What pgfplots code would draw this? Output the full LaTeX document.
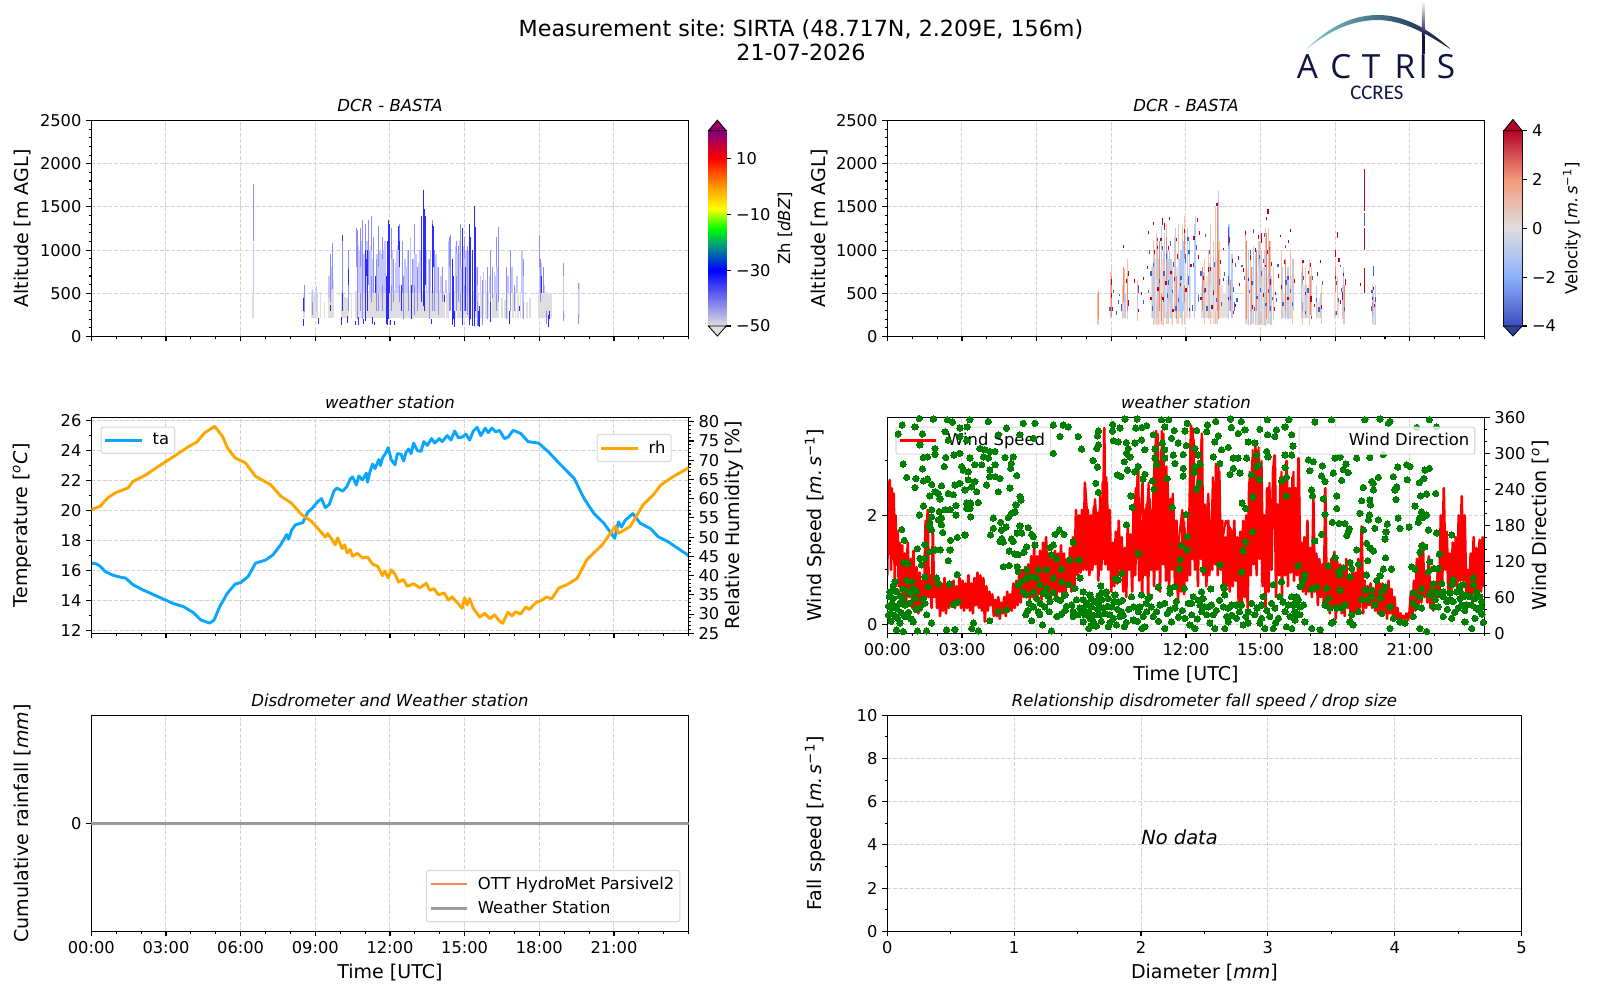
\documentclass[border=0pt]{standalone}
\usepackage{fontspec}
\setmainfont{DejaVu Sans}
\newfontfamily\logofont{Open Sans}
\newfontfamily\logosub{Carlito}
\usepackage{pgfplots}
\pgfplotsset{compat=1.18}
\newcommand{\tickf}{\fontsize{11.7bp}{13bp}\selectfont}
\newcommand{\titlef}{\fontsize{11.9bp}{14bp}\selectfont}
\newcommand{\labelf}{\fontsize{13.7bp}{16bp}\selectfont}
\newcommand{\cbf}{\fontsize{11.8bp}{14bp}\selectfont}
\newcommand{\legf}{\fontsize{11.8bp}{14bp}\selectfont}
\definecolor{gridc}{HTML}{D2D2D2}
\definecolor{taC}{HTML}{0AA5FF}
\definecolor{rhC}{HTML}{FFA500}
\definecolor{navy}{HTML}{0F1540}
\definecolor{gBase}{HTML}{DEDEDE}
\definecolor{zLight}{HTML}{C6C6FF}
\definecolor{zMid}{HTML}{8C8CFF}
\definecolor{zStrong}{HTML}{2A2AFF}
\definecolor{vPale}{HTML}{E6E0DC}
\definecolor{vBlueL}{HTML}{B5CCF8}
\definecolor{vPeach}{HTML}{F7BFA6}
\definecolor{vSalmon}{HTML}{EE8868}
\definecolor{vBlue}{HTML}{3F5FD8}
\definecolor{vRed}{HTML}{B40426}
\definecolor{logoA}{HTML}{7CCBC8}
\definecolor{logoB}{HTML}{1F7F95}
\definecolor{ottC}{HTML}{EF8A62}
\definecolor{wsC}{HTML}{999999}
\pgfdeclareverticalshading{zhmap}{100bp}{rgb(0bp)=(.87,.87,.87); rgb(25bp)=(.87,.87,.87); rgb(39.3bp)=(0,0,1); rgb(45bp)=(0,.55,.55); rgb(50bp)=(0,1,0); rgb(55bp)=(1,1,0); rgb(60.7bp)=(1,.6,0); rgb(67.9bp)=(1,0,0); rgb(75bp)=(.5,0,.5); rgb(100bp)=(.5,0,.5)}
\pgfdeclareverticalshading{velmap}{100bp}{rgb(0bp)=(.23,.30,.75); rgb(25bp)=(.23,.30,.75); rgb(37.5bp)=(.55,.69,.99); rgb(50bp)=(.87,.87,.87); rgb(62.5bp)=(.96,.6,.48); rgb(75bp)=(.71,.016,.15); rgb(100bp)=(.71,.016,.15)}
\pgfplotsset{
  base/.style={scale only axis,anchor=south west,
    tick align=outside,major tick length=3.6bp,minor tick length=2bp,
    tick style={black,line width=.8bp},axis line style={line width=.8bp},
    grid=major,grid style={gridc,line width=.7bp,dash pattern=on 2.9bp off 1.2bp},
    tick label style={font=\tickf},title style={font=\titlef,at={(0.5,1)},anchor=base,yshift=0.5bp},
    /pgf/number format/assume math mode=true,/pgf/number format/1000 sep={},
    scaled ticks=false,
    every axis y label/.style={at={(axis description cs:0,0.5)},anchor=center,rotate=90,font=\labelf},
    every axis x label/.style={at={(axis description cs:0.5,0)},anchor=center,yshift=-30bp,font=\labelf},
    legend cell align=left,
    legend style={font=\legf,fill=white,fill opacity=.8,text opacity=1,draw=black!15,rounded corners=1.5bp,line width=.8bp,inner xsep=2bp,inner ysep=2.5bp,row sep=3bp},
    legend image code/.code={\draw[draw opacity=0] (0bp,0bp) -- (31bp,0bp); \draw[##1] (0bp,0bp) -- (26bp,0bp);},
  },
  timex/.style={xmin=0,xmax=24,xtick={0,3,...,21},minor xtick={0,1,...,24},xtick pos=left},
  hourlab/.style={xticklabels={00:00,03:00,06:00,09:00,12:00,15:00,18:00,21:00}},
  nolab/.style={xticklabels={}},
  wd/.style={width=430.06bp,height=155.52bp},
  ylab/.style={ylabel style={yshift=#1}},
  radarY/.style={ymin=0,ymax=2500,ytick={0,500,...,2500},minor ytick={0,100,...,2500},ytick pos=left},
  streak/.style 2 args={forget plot,draw=none,mark=none,error bars/.cd,y dir=plus,y explicit,error mark=none,error bar style={draw=#1,line width=#2,solid}},
  cbar/.style={scale only axis,anchor=south west,clip=false,xmin=0,xmax=1,xtick=\empty,ytick pos=right,yticklabel pos=right,
    tick align=outside,major tick length=3.6bp,tick style={black,line width=.8bp},axis line style={line width=.6bp},tick label style={font=\tickf},
    every axis y label/.style={at={(axis description cs:1,0.5)},anchor=center,rotate=90,font=\cbf}},
}
\begin{document}
\frenchspacing
\begin{tikzpicture}
\begin{scope}[x=0.72bp,y=-0.72bp]
\coordinate (p1) at (91.3,336.5);
\coordinate (p2) at (887.3,336.5);
\coordinate (p3) at (91.3,633.3);
\coordinate (p4) at (887.3,633.3);
\coordinate (p5) at (91.3,931.3);
\coordinate (p6) at (887.3,931.3);
\coordinate (cb1) at (708.4,326);
\coordinate (cb2) at (1503.8,326);
\node[font=\fontsize{16bp}{19bp}\selectfont] at (801,30) {Measurement site: SIRTA (48.717N, 2.209E, 156m)};
\node[font=\fontsize{16bp}{19bp}\selectfont] at (801,52) {21-07-2026};
% logo
\begin{scope}
\clip (1306,49.5) .. controls (1330,26) and (1352,15.5) .. (1377,15) .. controls (1405,14.5) and (1430,30) .. (1451,49.5) .. controls (1430,36) and (1405,20) .. (1377,20) .. controls (1352,20.5) and (1330,30) .. cycle;
\shade[left color=logoA,middle color=logoB,right color=navy] (1306,14) rectangle (1451,50);
\end{scope}
\shade[top color=white,bottom color=navy] (1422,1) rectangle (1424.6,36);
\fill[navy] (1422,36) rectangle (1424.6,54);
\foreach \lx/\lt in {1307.5/A,1341/C,1371/T,1405/R,1423.3/I,1446/S}{
  \node[font=\logofont\fontsize{24bp}{26bp}\selectfont,text=navy,anchor=base] at (\lx,78) {\lt};
}
\node[font=\logosub\fontsize{15bp}{17bp}\selectfont,text=navy,anchor=base] at (1376.8,99) {CCRES};
\end{scope}

% ---------- DCR reflectivity
\begin{axis}[base,wd,at={(p1)},timex,nolab,radarY,ylab=49.7bp,title={\textit{DCR - BASTA}},ylabel={Altitude [m AGL]}]
\addplot[streak={gBase}{2.4bp}] table[row sep=\\,x=t,y=lo,y error expr=\thisrow{hi}-\thisrow{lo}] {t lo hi\\
8.9 210 530\\ 9.03 210 520\\ 9.58 210 560\\ 9.7 210 640\\ 10.08 210 520\\ 10.3 210 450\\ 10.68 210 530\\ 10.8 210 540\\ 10.92 210 520\\ 11.04 210 530\\ 11.16 210 530\\ 11.28 210 540\\ 11.4 210 530\\ 11.52 210 520\\ 11.64 210 540\\ 11.76 210 530\\ 11.88 210 530\\ 12 210 520\\ 12.12 210 530\\ 12.24 210 540\\ 12.36 210 530\\ 12.48 210 530\\ 12.6 210 520\\ 12.72 210 530\\ 12.84 210 540\\ 12.96 210 530\\ 13.08 210 530\\ 13.2 210 520\\ 13.32 210 530\\ 13.44 210 530\\ 13.56 210 540\\ 13.68 210 530\\ 13.8 210 530\\ 13.92 210 520\\ 14.04 210 530\\ 14.16 210 530\\ 14.3 210 500\\ 14.6 210 530\\ 14.75 210 530\\ 14.9 210 520\\ 15.05 210 530\\ 15.2 210 500\\ 15.35 210 530\\ 15.5 210 500\\ 15.7 210 500\\ 15.9 210 520\\ 16.15 210 500\\ 16.3 210 520\\ 18.03 210 520\\ 18.16 210 520\\ 18.28 210 520\\ 18.4 210 500\\
}; 
\addplot[streak={gBase}{1bp}] table[row sep=\\,x=t,y=lo,y error expr=\thisrow{hi}-\thisrow{lo}] {t lo hi\\
8.55 210 500\\ 9.2 210 520\\ 9.38 210 400\\ 10.2 210 460\\ 10.45 210 500\\ 16.5 210 450\\ 16.62 210 420\\ 16.72 210 500\\ 16.85 210 520\\ 16.95 210 500\\ 17.05 210 520\\ 17.15 210 480\\ 17.25 210 520\\ 17.35 210 530\\ 17.5 210 400\\ 17.62 210 450\\ 18.5 210 500\\ 19 210 260\\ 19.6 210 620\\ 6.5 210 500\\
};
\addplot[streak={zLight}{1bp}] table[row sep=\\,x=t,y=lo,y error expr=\thisrow{hi}-\thisrow{lo}] {t lo hi\\
8.88 300 550\\ 9.05 300 580\\ 9.55 450 700\\ 9.65 500 800\\ 10.72 500 1050\\ 10.78 500 1000\\ 10.85 450 1100\\ 10.95 500 950\\ 11.07 500 1100\\ 11.18 500 1000\\ 11.22 450 1050\\ 11.32 500 900\\ 11.48 500 950\\ 11.6 500 1000\\ 11.65 450 950\\ 11.75 500 1000\\ 11.8 500 1100\\ 12.1 500 1000\\ 12.22 500 850\\ 12.28 500 1000\\ 12.32 500 1050\\ 12.6 500 900\\ 12.65 500 800\\ 12.7 500 1000\\ 12.82 500 1150\\ 12.95 500 900\\ 13.05 500 950\\ 13.15 500 850\\ 13.2 500 1000\\ 13.48 500 1000\\ 13.55 500 900\\ 13.62 500 1000\\ 13.85 500 950\\ 13.9 500 800\\ 14.05 500 700\\ 14.25 500 650\\ 14.35 500 1100\\ 14.65 500 1050\\ 14.72 500 950\\ 14.8 500 1100\\ 14.95 500 1050\\ 15.05 500 1000\\ 15.15 500 1000\\ 15.45 500 800\\ 15.65 500 700\\ 15.75 500 750\\ 15.85 500 650\\ 16 500 700\\ 16.2 500 750\\ 16.25 500 700\\ 16.75 500 700\\ 16.9 500 800\\ 17.1 500 700\\ 17.3 500 1000\\ 18.02 500 1000\\ 18.1 500 850\\ 18.2 500 600\\ 6.52 500 1080\\
};
\addplot[streak={zMid}{.7bp}] table[row sep=\\,x=t,y=lo,y error expr=\thisrow{hi}-\thisrow{lo}] {t lo hi\\
6.52 1100 1760\\ 8.55 280 600\\ 8.9 250 400\\ 9.6 400 950\\ 9.7 550 1080\\ 10.1 400 1180\\ 10.33 300 1000\\ 10.65 800 1250\\ 10.7 200 1230\\ 10.8 300 1250\\ 10.9 200 1350\\ 11 200 1300\\ 11.12 600 1350\\ 11.25 400 1400\\ 11.35 500 1150\\ 11.45 300 900\\ 11.55 300 1280\\ 11.7 300 1150\\ 12.05 300 1250\\ 12.15 400 900\\ 12.38 400 1300\\ 12.5 500 1100\\ 12.55 200 700\\ 12.75 300 1000\\ 12.9 500 900\\ 13 250 1300\\ 13.1 300 800\\ 13.25 500 1300\\ 13.6 200 900\\ 13.7 300 1350\\ 13.8 300 1000\\ 13.95 250 800\\ 14.1 400 800\\ 14.4 300 1150\\ 14.45 300 1180\\ 14.68 300 1100\\ 14.75 400 1050\\ 14.85 300 1300\\ 15 300 1150\\ 15.1 250 1050\\ 15.5 120 800\\ 15.7 130 650\\ 15.9 200 800\\ 16.05 400 1000\\ 16.1 450 800\\ 16.3 300 1150\\ 16.35 400 1270\\ 16.7 200 800\\ 16.85 300 1000\\ 17 300 600\\ 17.35 200 900\\ 18 800 1180\\ 18.05 400 900\\ 18.15 500 800\\ 18.3 150 300\\ 18.98 180 850\\ 19.58 150 620\\
};
\addplot[streak={zLight}{.9bp}] table[row sep=\\,x=t,y=lo,y error expr=\thisrow{hi}-\thisrow{lo}] {t lo hi\\
10.8 500 800\\ 11 600 900\\ 11.25 700 1000\\ 11.55 500 800\\ 11.7 600 900\\ 12.05 600 900\\ 12.38 600 850\\ 13 600 950\\ 13.7 600 900\\ 14.4 500 800\\ 14.68 700 950\\ 14.85 500 800\\ 15 600 900\\ 15.5 400 600\\ 16.3 500 800\\ 17.35 400 700\\ 18.98 300 700\\ 19.58 250 550\\
};
\addplot[streak={zStrong}{.7bp}] table[row sep=\\,x=t,y=lo,y error expr=\thisrow{hi}-\thisrow{lo}] {t lo hi\\
8.53 125 200\\ 8.52 300 440\\ 9.12 150 210\\ 9.62 300 360\\ 10.07 130 220\\ 10.08 1100 1180\\ 10.09 300 500\\ 10.3 160 240\\ 10.32 600 780\\ 10.62 130 180\\ 10.75 130 230\\ 10.95 140 200\\ 11.02 180 1000\\ 11.1 300 1000\\ 11.05 700 900\\ 11.3 140 220\\ 11.42 500 700\\ 11.38 130 170\\ 11.85 150 700\\ 11.9 130 1100\\ 11.95 200 1350\\ 12 500 1300\\ 12.02 130 190\\ 12.2 130 180\\ 12.4 800 1100\\ 12.35 1000 1280\\ 12.45 300 600\\ 12.85 200 600\\ 13.28 400 1400\\ 13.33 350 1690\\ 13.38 300 1480\\ 13.42 600 1400\\ 13.72 500 1300\\ 13.75 800 1280\\ 13.65 140 200\\ 14.2 400 480\\ 14.52 130 900\\ 14.56 200 700\\ 14.6 110 300\\ 14.9 200 1250\\ 14.92 130 700\\ 15.05 300 800\\ 15.2 130 1300\\ 15.25 200 1150\\ 15.3 125 1000\\ 15.38 120 1510\\ 15.42 300 1270\\ 15.55 120 300\\ 15.6 110 350\\ 16.05 170 400\\ 16.8 140 300\\ 17.22 300 350\\ 18.08 500 700\\ 18.35 110 250\\ 18.4 200 300\\
};
\end{axis}
\begin{axis}[cbar,at={(cb1)},width=12.9bp,height=140.6bp,ymin=-50,ymax=20,ytick={-50,-30,-10,10},yticklabels={−50,−30,−10,10},ylabel={Zh [\textit{dBZ}]},ylabel style={yshift=-42.2bp}]
\shade[shading=zhmap] (axis cs:0,-50) rectangle (axis cs:1,20);
\filldraw[fill=gBase,draw=black,line width=.6bp] (axis cs:0,-50) -- (axis cs:.5,-53.6) -- (axis cs:1,-50) -- cycle;
\filldraw[fill=violet!60!purple,draw=black,line width=.6bp] (axis cs:0,20) -- (axis cs:.5,23.8) -- (axis cs:1,20) -- cycle;
\end{axis}

% ---------- DCR velocity
\begin{axis}[base,wd,at={(p2)},timex,nolab,radarY,ylab=48.6bp,title={\textit{DCR - BASTA}},ylabel={Altitude [m AGL]}]
\addplot[streak={vPale}{1.6bp}] table[row sep=\\,x=t,y=lo,y error expr=\thisrow{hi}-\thisrow{lo}] {t lo hi\\
9 210 600\\ 9.5 210 500\\ 10.65 210 800\\ 10.75 150 900\\ 10.85 130 800\\ 10.95 150 750\\ 11.05 130 900\\ 11.15 210 700\\ 11.25 140 800\\ 11.35 210 800\\ 11.45 140 700\\ 11.55 210 750\\ 11.65 150 800\\ 11.75 210 800\\ 11.85 130 700\\ 11.95 140 900\\ 12.05 210 650\\ 12.15 210 700\\ 12.65 210 600\\ 12.75 210 650\\ 12.85 210 700\\ 12.95 210 600\\ 13.05 210 800\\ 13.15 140 800\\ 13.25 140 900\\ 13.35 210 800\\ 13.45 210 600\\ 13.55 210 500\\ 13.65 210 650\\ 14.4 150 700\\ 14.5 130 800\\ 14.6 130 700\\ 14.7 150 800\\ 14.8 130 700\\ 14.9 130 750\\ 15 130 800\\ 15.1 130 800\\ 15.2 130 700\\ 15.3 150 700\\ 15.4 150 600\\ 15.85 210 600\\ 15.95 210 500\\ 16.05 210 700\\ 16.15 210 600\\ 16.25 210 700\\ 16.75 210 600\\ 16.85 210 500\\ 16.95 210 600\\ 17.3 210 400\\ 17.4 210 450\\ 18 210 500\\ 18.1 210 450\\ 18.3 210 400\\ 19.55 130 450\\
};
\addplot[streak={vPeach}{.75bp}] table[row sep=\\,x=t,y=lo,y error expr=\thisrow{hi}-\thisrow{lo}] {t lo hi\\
8.45 150 520\\ 8.5 130 530\\ 8.98 220 750\\ 9 500 800\\ 9.45 200 600\\ 9.55 250 780\\ 9.65 200 900\\ 10.05 180 650\\ 10.7 130 1100\\ 10.8 150 1200\\ 10.9 130 900\\ 11 140 1200\\ 11.1 130 1000\\ 11.2 150 1300\\ 11.3 140 900\\ 11.45 130 800\\ 11.55 300 1150\\ 11.7 140 1300\\ 11.85 150 1280\\ 11.95 140 1400\\ 12.75 150 900\\ 12.9 200 1000\\ 13 150 1300\\ 13.2 150 1500\\ 13.25 150 1560\\ 13.3 200 1400\\ 13.35 300 1100\\ 13.7 200 800\\ 14.4 150 1230\\ 14.45 200 1000\\ 14.6 130 900\\ 14.7 150 1000\\ 14.9 130 1100\\ 15 140 1200\\ 15.2 120 1250\\ 15.3 150 1260\\ 15.4 130 1100\\ 15.5 200 800\\ 15.85 200 1000\\ 16.2 200 1000\\ 16.3 150 900\\ 16.7 130 880\\ 16.8 200 800\\ 16.95 130 900\\ 17.05 210 800\\ 17.45 150 600\\ 18 220 900\\ 18.1 300 700\\ 18.3 200 600\\ 18.35 150 500\\ 19.5 150 600\\ 19.6 210 450\\
};
\addplot[streak={vBlueL}{.85bp}] table[row sep=\\,x=t,y=lo,y error expr=\thisrow{hi}-\thisrow{lo}] {t lo hi\\
9 400 600\\ 9.55 210 500\\ 10.05 300 500\\ 10.65 210 800\\ 10.75 210 1000\\ 10.85 210 1150\\ 11.03 210 1280\\ 11.13 210 1200\\ 11.25 210 1000\\ 11.33 400 1000\\ 11.4 210 900\\ 11.58 300 1250\\ 11.72 300 900\\ 11.8 210 1000\\ 11.88 300 1100\\ 12.05 300 1250\\ 12.15 210 1100\\ 12.35 210 1300\\ 12.4 300 1400\\ 12.7 210 750\\ 12.95 210 850\\ 13.1 300 1100\\ 13.3 1100 1680\\ 13.27 500 1560\\ 13.72 210 1300\\ 13.76 300 1300\\ 13.85 210 950\\ 14.5 130 1000\\ 14.62 140 800\\ 14.72 210 1050\\ 14.8 130 950\\ 14.95 130 1100\\ 15.05 150 1000\\ 15.15 130 1000\\ 15.32 210 800\\ 15.42 130 700\\ 15.87 210 800\\ 16 200 700\\ 16.1 200 800\\ 16.32 300 900\\ 16.65 210 750\\ 16.82 210 600\\ 17.25 210 600\\ 17.42 210 500\\ 18.02 300 700\\ 18.32 220 800\\ 19.52 210 500\\ 19.62 130 600\\
};
\addplot[streak={vSalmon}{.7bp}] table[row sep=\\,x=t,y=lo,y error expr=\thisrow{hi}-\thisrow{lo}] {t lo hi\\
8.47 200 500\\ 9.02 220 700\\ 9.5 400 800\\ 9.65 300 680\\ 10.92 300 1100\\ 11 180 800\\ 11.2 400 1150\\ 11.6 200 700\\ 11.95 400 1200\\ 12.65 300 800\\ 13.25 300 1500\\ 13.3 200 1000\\ 13.8 300 650\\ 14.45 200 1100\\ 14.65 300 800\\ 14.85 300 1000\\ 15.25 200 1200\\ 15.35 300 1100\\ 16 300 900\\ 16.7 300 800\\ 17 250 700\\ 18.02 250 800\\ 18.35 280 600\\ 19.5 250 400\\
};
\addplot[streak={vPale}{.9bp}] table[row sep=\\,x=t,y=lo,y error expr=\thisrow{hi}-\thisrow{lo}] {t lo hi\\
10.8 400 650\\ 11 500 800\\ 11.2 300 600\\ 11.7 500 900\\ 11.85 400 700\\ 11.95 600 900\\ 13 300 600\\ 13.2 300 500\\ 14.4 600 900\\ 14.7 300 600\\ 14.9 500 800\\ 15 300 600\\ 15.2 500 800\\ 15.3 300 600\\ 16.7 400 600\\ 18 300 500\\
};
\addplot[streak={vBlue}{.9bp}] table[row sep=\\,x=t,y=lo,y error expr=\thisrow{hi}-\thisrow{lo}] {t lo hi\\
8.95 300 340\\ 9.3 380 420\\ 9.32 470 490\\ 9.4 300 380\\ 10.1 500 600\\ 10.5 500 540\\ 10.6 700 760\\ 10.7 800 850\\ 10.95 620 660\\ 11.1 400 450\\ 11.22 900 950\\ 11.3 600 650\\ 11.45 500 540\\ 11.6 300 350\\ 11.98 850 950\\ 12.1 600 700\\ 12.12 950 1000\\ 12.5 400 480\\ 12.6 700 760\\ 12.85 300 350\\ 12.95 950 1000\\ 13.1 500 540\\ 13.22 400 450\\ 13.7 1050 1270\\ 13.72 600 700\\ 13.95 300 400\\ 13.98 800 850\\ 14.25 800 830\\ 14.6 950 1000\\ 14.65 600 640\\ 14.85 430 470\\ 14.95 900 940\\ 15.05 700 760\\ 15.15 1150 1200\\ 15.32 500 550\\ 15.4 300 350\\ 15.65 400 450\\ 15.9 350 400\\ 16.1 650 700\\ 16.2 500 550\\ 16.8 260 300\\ 17.05 200 240\\ 17.25 400 450\\ 18 950 980\\ 18.05 250 300\\ 18.12 400 450\\ 18.2 800 830\\ 19.16 500 530\\ 19.17 1280 1430\\ 19.17 1650 1700\\ 19.45 300 350\\ 19.55 700 820\\ 19.62 400 460\\
9.1 500 540\\ 9.2 250 300\\ 10.3 380 420\\ 10.55 950 1000\\ 10.65 300 350\\ 10.85 1100 1140\\ 11.05 1000 1050\\ 11.12 700 760\\ 11.27 450 500\\ 11.37 1050 1100\\ 11.5 800 860\\ 11.7 400 450\\ 11.8 650 700\\ 12.08 1100 1150\\ 12.25 300 360\\ 12.3 800 850\\ 12.42 1000 1060\\ 12.75 500 560\\ 12.8 1150 1190\\ 13.15 800 860\\ 13.35 600 660\\ 13.42 350 400\\ 13.55 700 750\\ 13.78 420 470\\ 13.9 520 570\\ 14.05 400 440\\ 14.35 650 700\\ 14.55 500 540\\ 14.7 1200 1240\\ 14.75 300 340\\ 15 520 560\\ 15.12 850 900\\ 15.22 350 390\\ 15.35 1000 1040\\ 15.48 420 460\\ 15.7 800 840\\ 16 1020 1060\\ 16.02 600 650\\ 16.28 350 400\\ 16.72 650 700\\ 16.9 500 560\\ 17.08 650 700\\ 17.35 280 340\\ 17.5 600 640\\ 18.05 600 640\\ 18.25 520 560\\ 18.38 300 340\\ 19.48 500 540\\
};
\addplot[streak={vRed}{.9bp}] table[row sep=\\,x=t,y=lo,y error expr=\thisrow{hi}-\thisrow{lo}] {t lo hi\\
9 600 670\\ 9.02 450 500\\ 9.5 1020 1060\\ 9.7 350 420\\ 9.68 700 760\\ 9.93 620 660\\ 10.1 280 320\\ 10.2 480 520\\ 10.45 780 820\\ 10.5 1190 1220\\ 10.7 1290 1320\\ 10.85 1010 1050\\ 11.05 1290 1370\\ 11.15 1230 1310\\ 11.2 600 640\\ 11.35 1350 1380\\ 11.4 720 760\\ 11.55 640 690\\ 11.65 900 950\\ 11.95 1200 1240\\ 12.15 290 330\\ 12.45 1320 1370\\ 12.55 1180 1220\\ 12.5 900 940\\ 12.7 650 700\\ 12.9 750 800\\ 13.05 320 360\\ 13.25 1510 1540\\ 13.5 1000 1030\\ 13.75 1080 1150\\ 13.9 260 300\\ 14.1 880 930\\ 14.15 580 620\\ 14.3 750 790\\ 14.6 880 940\\ 14.8 980 1020\\ 15.05 1080 1200\\ 15.2 800 830\\ 15.25 1350 1380\\ 15.3 1420 1470\\ 15.4 600 660\\ 15.55 300 340\\ 15.8 1150 1180\\ 15.85 550 600\\ 16.2 1210 1240\\ 16.1 420 460\\ 16.7 850 890\\ 17 800 850\\ 17.02 400 470\\ 17.3 700 750\\ 17.4 850 890\\ 18 920 1000\\ 18.1 1140 1210\\ 18.15 860 910\\ 18.3 420 520\\ 18.4 600 660\\ 19 580 620\\ 19.17 500 790\\ 19.17 1000 1250\\ 19.17 1450 1940\\ 19.55 540 570\\
9.05 300 340\\ 9.6 620 660\\ 10.3 650 690\\ 10.6 420 460\\ 10.75 950 1000\\ 10.88 530 570\\ 11 1100 1140\\ 11.08 420 460\\ 11.3 1000 1050\\ 11.48 280 320\\ 11.62 1100 1140\\ 11.78 580 620\\ 12 520 560\\ 12.2 800 840\\ 12.32 1120 1160\\ 12.6 420 460\\ 12.8 520 560\\ 13 760 800\\ 13.12 480 520\\ 13.4 840 880\\ 13.52 640 680\\ 13.7 420 460\\ 13.88 850 900\\ 14 340 380\\ 14.4 1180 1220\\ 14.5 640 680\\ 14.68 320 360\\ 14.9 1130 1170\\ 15.12 460 500\\ 15.28 950 1000\\ 15.45 820 860\\ 15.6 480 520\\ 15.72 680 720\\ 15.95 840 880\\ 16.12 1080 1120\\ 16.35 620 660\\ 16.8 480 520\\ 16.92 720 760\\ 17.18 340 380\\ 17.45 320 360\\ 18.02 660 700\\ 18.2 380 420\\ 18.33 700 740\\ 19.5 420 460\\ 19.58 340 380\\
};
\end{axis}
\begin{axis}[cbar,at={(cb2)},width=13.2bp,height=140.6bp,ymin=-4,ymax=4,ytick={-4,-2,0,2,4},yticklabels={−4,−2,0,2,4},ylabel={Velocity [\textit{m.\,s}\textsuperscript{−1}]},ylabel style={yshift=-35.8bp}]
\shade[shading=velmap] (axis cs:0,-4) rectangle (axis cs:1,4);
\filldraw[fill=vBlue!70!black,draw=black,line width=.6bp] (axis cs:0,-4) -- (axis cs:.5,-4.41) -- (axis cs:1,-4) -- cycle;
\filldraw[fill=vRed,draw=black,line width=.6bp] (axis cs:0,4) -- (axis cs:.5,4.46) -- (axis cs:1,4) -- cycle;
\end{axis}

% ---------- temperature / humidity
\begin{axis}[base,wd,at={(p3)},timex,nolab,ymin=11.82,ymax=26.22,ytick={12,14,...,26},minor ytick={12,13,...,26},ytick pos=left,ylab=49.8bp,
  title={\textit{weather station}},ylabel={Temperature [\textsuperscript{\textit{o}}\textit{C}]},legend style={at={(0.0156,0.957)},anchor=north west}]
\addplot[taC,line width=2.1bp,line join=round] coordinates {(0,16.5)(0.2,16.45)(0.35,16.3)(0.55,15.95)(0.85,15.7)(1.2,15.55)(1.38,15.5)(1.68,15.05)(2.09,14.7)(2.5,14.4)(2.9,14.1)(3.3,13.8)(3.7,13.6)(4.1,13.2)(4.41,12.7)(4.76,12.5)(4.93,12.7)(5.16,13.6)(5.47,14.5)(5.78,15.1)(6,15.2)(6.3,15.6)(6.6,16.5)(7,16.7)(7.3,17.05)(7.6,17.7)(7.85,18.4)(7.93,18.1)(8.05,18.7)(8.2,19.05)(8.5,19.2)(8.7,19.9)(8.85,20.1)(9.1,20.6)(9.25,20.8)(9.4,20.2)(9.56,20.4)(9.75,21.3)(9.87,21.5)(10.1,21.3)(10.27,21.6)(10.4,22.1)(10.5,22.25)(10.65,21.7)(10.75,22.3)(10.9,22.05)(11.05,22.5)(11.1,21.9)(11.2,22.6)(11.3,23.1)(11.4,22.8)(11.55,23.4)(11.62,23)(11.7,23.5)(11.85,23.9)(11.93,24.2)(12.05,23.4)(12.2,23.05)(12.3,23.8)(12.45,23.75)(12.55,23.3)(12.65,23.9)(12.75,24.1)(12.85,23.8)(12.95,24.5)(13.1,24)(13.25,23.95)(13.36,24.6)(13.5,24.35)(13.67,24.8)(13.8,24.5)(13.98,24.8)(14.1,24.6)(14.3,25)(14.45,24.7)(14.6,25.3)(14.75,24.85)(14.9,24.9)(15.05,25.1)(15.2,24.7)(15.35,25.3)(15.5,25.55)(15.65,25)(15.83,25.5)(15.95,25.2)(16.1,25.5)(16.25,25.25)(16.4,25.35)(16.6,24.8)(16.75,24.9)(16.95,25.35)(17.25,25.15)(17.55,24.6)(17.97,24.5)(18.38,23.9)(18.8,23.15)(19.4,22.15)(19.8,20.8)(20.2,19.8)(20.6,19.15)(21.03,18.15)(21.18,19.25)(21.3,18.9)(21.45,19.35)(21.76,19.8)(22.06,19.15)(22.47,18.8)(22.78,18.25)(23.2,17.9)(23.6,17.45)(24,17)};
\addlegendentry{ta}
\end{axis}
\begin{axis}[base,wd,at={(p3)},xmin=0,xmax=24,xtick=\empty,grid=none,ymin=25,ymax=81.15,ytick={25,30,...,80},minor ytick={25,26,...,81},ytick pos=right,yticklabel pos=right,
  every axis y label/.style={at={(axis description cs:1,0.5)},anchor=center,rotate=90,font=\labelf},ylabel style={yshift=-32.6bp},
  ylabel={Relative Humidity [\%]},legend style={at={(0.9716,0.9227)},anchor=north east}]
\addplot[rhC,line width=2.1bp,line join=round] coordinates {(0,57.15)(0.35,58)(0.66,60.2)(0.96,61.5)(1.48,62.8)(1.68,64.5)(2.2,66.2)(2.7,68.4)(3.32,71)(3.93,73.6)(4.24,74.7)(4.55,77.1)(4.96,78.8)(5.27,76.2)(5.47,73.2)(5.78,70.6)(6.19,69.3)(6.6,65.8)(7.21,63.6)(7.62,60.6)(8.03,58.9)(8.44,55.9)(8.85,54.1)(9.26,51.1)(9.4,50)(9.5,50.9)(9.67,49.4)(9.8,48)(9.9,49.8)(10.08,47)(10.18,48)(10.28,45.9)(10.4,46.8)(10.5,45)(10.69,45.8)(10.9,44.6)(11.1,44.8)(11.3,43)(11.51,42.4)(11.7,40)(11.8,41.2)(11.93,39.4)(12.05,41.5)(12.2,40.4)(12.35,38.3)(12.54,39)(12.7,37.2)(12.95,37.9)(13.2,36.8)(13.46,38)(13.6,36.2)(13.77,36.6)(13.95,35)(14.18,35.5)(14.35,33.6)(14.49,34.5)(14.7,33)(14.9,31.5)(15,34.2)(15.1,32.4)(15.2,34)(15.35,31.5)(15.61,29.2)(15.8,30.2)(16.02,28.8)(16.2,29.8)(16.4,28.2)(16.53,27.6)(16.74,30.5)(16.9,29.5)(17.05,30.6)(17.25,30)(17.46,31.8)(17.6,31.2)(17.87,33)(18.1,33.6)(18.28,34.4)(18.5,34)(18.79,36.8)(19.1,37.6)(19.51,39.2)(19.92,44.2)(20.53,48)(21.05,52.8)(21.19,51)(21.66,52.8)(22.17,58.4)(22.58,61)(22.89,63.6)(23.4,65.8)(24,68)};
\addlegendentry{rh}
\end{axis}

% ---------- wind
\begin{axis}[base,wd,at={(p4)},timex,hourlab,ymin=-0.165,ymax=3.8,ytick={0,2},minor ytick={1,3},ytick pos=left,ylab=51.8bp,
  title={\textit{weather station}},xlabel={Time [UTC]},ylabel={Wind Speed [\textit{m.\,s}\textsuperscript{−1}]},legend style={at={(0.0137,0.957)},anchor=north west}]
\addplot[red,line width=1.5bp,line join=round,forget plot] coordinates {(7.9,1.2)(7.96,2.5)(8.15,1.3)(8.35,2.3)(8.5,1.2)(8.55,2.4)(8.65,1.3)(8.71,3.6)(8.74,1.4)(8.8,2.7)(8.9,1.2)(9.85,1.2)(9.98,2.5)(10.03,1.2)(10.06,2.95)(10.1,1.3)(10.26,2.7)(10.32,1.2)(10.5,2.6)(10.6,1.3)(10.76,3.3)(10.82,1.4)(10.87,3.5)(10.93,1.5)(11,3.2)(11.06,1.3)(11.1,3.5)(11.16,1.4)(11.22,2.9)(11.28,1.1)(11.47,2.4)(11.6,1.1)(11.85,2.1)(12.1,1.2)(12.18,3.4)(12.22,1.4)(12.28,3.6)(12.33,1.3)(12.5,3.0)(12.56,1.3)(12.62,3.4)(12.68,1.2)(12.9,2.4)(13,1.2)(13.08,2.7)(13.14,1.3)(13.2,2.95)(13.26,1.4)(13.31,2.9)(13.37,1.3)(13.6,1.9)(14.5,1.2)(14.56,2.8)(14.62,1.4)(14.68,3.2)(14.74,1.5)(14.8,3.3)(14.86,1.4)(14.92,3.25)(14.98,1.5)(15.04,3.0)(15.1,1.1)(15.36,2.6)(15.42,1.2)(15.58,3.1)(15.64,1.1)(15.84,2.8)(15.9,1.2)(16.06,3.0)(16.12,1.1)(16.32,2.8)(16.38,1.1)(16.54,3.05)(16.6,1.0)};
\addplot[red,line width=1.9bp,line join=round] coordinates {(0,0.9)(0.03,2.6)(0.07,1.3)(0.1,2.65)(0.15,1.0)(0.18,2.5)(0.22,1.2)(0.26,2.4)(0.3,0.8)(0.33,2.0)(0.38,1.1)(0.42,1.7)(0.46,0.7)(0.5,1.5)(0.54,0.6)(0.6,1.45)(0.65,0.4)(0.7,1.3)(0.76,0.35)(0.82,1.5)(0.88,0.5)(0.94,1.2)(1,0.3)(1.05,1.35)(1.12,0.3)(1.18,1.05)(1.25,0.2)(1.3,0.95)(1.36,0.25)(1.42,0.8)(1.48,0.35)(1.54,1.9)(1.58,0.5)(1.62,2.1)(1.67,0.5)(1.72,0.9)(1.78,0.3)(1.83,1.75)(1.88,0.5)(1.94,0.85)(2,0.3)(2.06,0.8)(2.12,0.15)(2.18,0.75)(2.24,0.25)(2.3,0.85)(2.36,0.2)(2.42,0.7)(2.48,0.3)(2.54,0.75)(2.6,0.35)(2.66,0.8)(2.72,0.3)(2.78,0.7)(2.84,0.35)(2.9,0.85)(2.96,0.3)(3.02,0.8)(3.08,0.25)(3.14,0.75)(3.2,0.3)(3.26,0.9)(3.32,0.25)(3.38,0.75)(3.44,0.2)(3.5,0.85)(3.56,0.35)(3.62,0.95)(3.68,0.3)(3.74,0.9)(3.8,0.25)(3.86,0.85)(3.92,0.05)(3.98,0.7)(4.04,0.25)(4.1,0.6)(4.16,0.35)(4.22,0.55)(4.28,0.15)(4.34,0.45)(4.4,0.15)(4.46,0.5)(4.52,0.1)(4.58,0.4)(4.64,0.2)(4.7,0.5)(4.76,0.15)(4.82,0.6)(4.88,0.25)(4.94,0.55)(5,0.25)(5.06,0.75)(5.12,0.3)(5.18,0.8)(5.24,0.35)(5.3,0.95)(5.36,0.4)(5.42,1.0)(5.48,0.5)(5.54,1.05)(5.6,0.5)(5.66,1.1)(5.72,0.45)(5.78,1.25)(5.84,0.5)(5.9,1.4)(5.96,0.5)(6.02,1.25)(6.08,0.55)(6.14,1.35)(6.2,0.45)(6.26,1.5)(6.32,0.6)(6.38,1.6)(6.44,0.5)(6.5,1.3)(6.56,0.45)(6.62,1.2)(6.68,0.6)(6.74,1.35)(6.8,0.5)(6.86,1.3)(6.92,0.6)(6.98,1.45)(7.04,0.45)(7.1,1.3)(7.16,0.55)(7.22,1.2)(7.28,0.7)(7.34,1.4)(7.4,0.6)(7.46,1.6)(7.52,0.7)(7.58,2.1)(7.64,0.9)(7.7,2.0)(7.76,0.95)(7.82,2.1)(7.88,1.0)(7.94,2.6)(8,1.0)(8.06,2.1)(8.12,0.9)(8.18,2.0)(8.24,1.0)(8.3,2.15)(8.36,1.1)(8.42,2.05)(8.48,0.8)(8.54,2.1)(8.6,1.0)(8.66,2.6)(8.7,1.2)(8.72,3.6)(8.76,1.1)(8.82,2.6)(8.88,1.0)(8.94,2.1)(9,0.6)(9.06,1.5)(9.12,0.7)(9.18,1.7)(9.24,0.75)(9.3,1.9)(9.36,1.0)(9.42,1.6)(9.48,0.6)(9.54,1.4)(9.6,0.5)(9.66,1.8)(9.72,1.0)(9.78,1.65)(9.84,0.6)(9.9,2.2)(9.96,0.9)(10.02,2.1)(10.08,2.9)(10.12,0.8)(10.18,1.9)(10.24,0.55)(10.3,2.1)(10.36,0.9)(10.42,2.2)(10.48,0.5)(10.54,2.3)(10.6,1.0)(10.66,2.1)(10.72,0.7)(10.8,3.55)(10.84,1.0)(10.9,3.0)(10.96,0.6)(11.04,3.55)(11.08,1.1)(11.14,2.4)(11.2,0.8)(11.26,2.7)(11.32,0.6)(11.38,2.3)(11.44,1.0)(11.5,2.1)(11.56,0.7)(11.62,1.9)(11.68,0.4)(11.74,1.5)(11.8,0.6)(11.86,1.9)(11.92,0.55)(11.98,1.6)(12.04,0.8)(12.1,2.0)(12.16,0.9)(12.2,3.65)(12.26,1.2)(12.3,3.4)(12.36,1.0)(12.42,2.5)(12.48,0.7)(12.54,2.7)(12.6,1.2)(12.64,3.5)(12.7,0.9)(12.76,2.2)(12.82,0.7)(12.88,2.1)(12.94,0.9)(13,1.9)(13.06,1.0)(13.12,2.6)(13.18,1.1)(13.22,2.9)(13.28,0.9)(13.34,2.8)(13.4,1.0)(13.46,1.9)(13.52,0.5)(13.58,1.6)(13.64,0.7)(13.7,1.9)(13.76,0.6)(13.82,1.7)(13.88,0.7)(13.94,1.9)(14,0.8)(14.06,1.6)(14.12,0.35)(14.18,1.7)(14.24,0.3)(14.3,1.9)(14.36,0.5)(14.42,2.0)(14.48,0.3)(14.54,2.6)(14.6,0.9)(14.66,3.0)(14.72,1.1)(14.78,3.3)(14.84,0.9)(14.9,3.2)(14.96,1.2)(15.02,2.9)(15.08,0.7)(15.14,2.0)(15.2,0.3)(15.26,2.5)(15.32,0.6)(15.38,2.3)(15.44,1.0)(15.5,2.8)(15.56,3.1)(15.62,0.5)(15.68,2.2)(15.74,0.9)(15.8,2.7)(15.86,0.5)(15.92,2.7)(15.98,0.9)(16.04,3.0)(16.1,0.7)(16.16,2.5)(16.22,0.95)(16.28,2.7)(16.34,0.8)(16.4,2.5)(16.46,0.9)(16.52,3.05)(16.58,0.8)(16.64,1.5)(16.7,0.6)(16.76,1.6)(16.82,0.55)(16.88,1.9)(16.94,0.6)(17,1.4)(17.06,0.5)(17.12,2.3)(17.18,0.6)(17.24,1.3)(17.3,0.35)(17.36,1.2)(17.42,0.5)(17.48,1.1)(17.54,0.4)(17.6,2.5)(17.66,0.3)(17.72,1.1)(17.78,0.2)(17.84,1.2)(17.9,0.3)(17.96,1.33)(18.02,0.1)(18.08,1.15)(18.14,0.3)(18.2,1.1)(18.26,0.2)(18.32,1.0)(18.38,0.15)(18.44,1.2)(18.5,0.3)(18.56,0.9)(18.62,0.1)(18.68,1.0)(18.74,0.15)(18.8,0.95)(18.86,0.2)(18.92,1.2)(18.98,0.3)(19.06,1.8)(19.12,0.2)(19.18,0.8)(19.24,0.3)(19.3,0.7)(19.36,0.35)(19.42,0.75)(19.48,0.3)(19.54,0.65)(19.6,0.25)(19.66,0.8)(19.72,0.2)(19.78,0.75)(19.84,0.25)(19.9,0.75)(19.96,0.2)(20.02,0.7)(20.08,0.1)(20.14,0.8)(20.2,0.2)(20.26,0.65)(20.32,0.15)(20.38,0.5)(20.44,0.1)(20.5,0.3)(20.56,0.08)(20.62,0.2)(20.68,0.1)(20.74,0.15)(20.8,0.1)(20.86,0.2)(20.92,0.08)(20.98,0.2)(21.04,0.6)(21.1,0.15)(21.16,0.8)(21.22,0.25)(21.28,1.2)(21.34,0.35)(21.4,1.3)(21.46,0.4)(21.52,1.5)(21.58,0.5)(21.64,0.9)(21.7,0.4)(21.76,1.25)(21.82,0.3)(21.88,0.7)(21.94,0.25)(22,0.7)(22.06,0.45)(22.12,1.0)(22.18,0.5)(22.24,2.0)(22.3,0.8)(22.36,2.5)(22.42,1.0)(22.48,1.7)(22.54,0.6)(22.6,1.3)(22.66,0.55)(22.72,1.5)(22.78,0.7)(22.84,1.6)(22.9,0.6)(22.96,2.0)(23.02,0.8)(23.08,2.35)(23.14,0.8)(23.2,2.0)(23.26,0.6)(23.32,1.0)(23.38,0.5)(23.44,1.3)(23.5,0.4)(23.56,1.6)(23.62,0.6)(23.68,1.4)(23.74,0.6)(23.8,1.55)(23.86,0.6)(23.92,1.6)(23.97,0.7)(24,1.3)};
\addlegendentry{Wind Speed}
\end{axis}
\begin{axis}[base,wd,at={(p4)},xmin=0,xmax=24,xtick=\empty,grid=none,ymin=0,ymax=360,ytick={0,60,...,360},minor ytick={0,20,...,360},ytick pos=right,yticklabel pos=right,
  every axis y label/.style={at={(axis description cs:1,0.5)},anchor=center,rotate=90,font=\labelf},ylabel style={yshift=-40.3bp},
  ylabel={Wind Direction [\textsuperscript{\textit{o}}]},legend style={at={(0.9845,0.957)},anchor=north east},
  legend image code/.code={\draw[draw opacity=0] (0bp,0bp) -- (31bp,0bp);}]
\addplot[only marks,mark=*,mark size=2.25bp,mark options={fill=black!50!green,draw=black!50!green,line width=0pt}] coordinates {
(.6,347)(1.11,344)(1.29,358)(1.85,357)(2.42,356)(2.62,352)(3.32,356)(4.06,353)(4.79,342)(5.46,350)(5.93,350)(6.67,347)(7.07,347)(7.27,344)(.44,332)(1.41,332)(2.32,336)(2.92,342)(3.21,344)(2.45,322)(2.92,328)(3.19,322)(4.46,331)(5.33,331)(5.87,325)(6.67,300)(6.94,328)(7.67,328)(7.81,307)(1.31,314)(1.92,308)(1.45,293)(1.62,294)(1.92,298)(2.34,293)(2.68,297)(2.92,300)(3.32,292)(3.72,308)(3.92,306)(4.12,303)(4.33,303)(3.86,294)(4.06,292)(4.73,293)(5.06,294)(4.99,283)(4.96,275)(4.33,281)(3.79,281)(3.52,281)(2.99,278)(.64,282)(1.41,274)(2.29,278)(3.05,272)(3.25,269)(4.12,272)(5.2,263)(.78,260)(1.15,258)(1.45,254)(1.62,257)(1.78,248)(2.18,246)(1.11,243)(1.92,236)(2.05,233)(1.71,229)(2.12,224)(2.72,247)(2.92,250)(2.45,233)(2.65,231)(3.25,256)(3.52,253)(3.39,244)(3.12,239)(3.59,236)(3.99,247)(4.12,261)(4.33,261)(4.53,258)(4.46,236)(4.93,242)(5.33,228)(5.37,222)(5.17,214)(3.19,217)(3.35,217)(3.66,218)(3.19,208)(3.32,208)(2.76,213)(1.45,212)(1.78,206)(1.29,197)(1.78,194)(2.09,203)(2.32,206)(2.52,206)(2.76,197)(2.18,192)(2.05,189)(3.35,194)(1.71,183)(1.69,178)(2.18,181)(1.78,172)(2.22,168)(.58,173)(4.99,200)(5.13,202)(4.86,193)(4.26,192)(4.56,185)(4.77,177)(4.59,172)(4.26,175)(4.15,164)(5.33,179)(5.66,176)(5.22,167)(5.4,167)(5.8,165)(5.87,161)(3.12,164)(2.81,160)(2.54,155)(.68,155)(1.51,148)(4.59,158)(4.53,153)(4.99,157)(5.06,153)(5.6,144)(5.93,147)(4.66,152)(4.9,137)(2.52,139)(2.12,139)(1.92,139)(1.71,136)(1.21,141)(5.13,132)(5.26,131)(5.49,135)(6.67,147)(6.54,143)(6.74,165)(6.91,172)(7.1,165)(6.6,131)(7.47,152)(6.8,124)(2.45,121)(1.31,125)(1.51,125)(1.38,114)(.67,118)(.82,116)(4.9,113)(4.66,111)(5.22,111)(5.26,103)(5.6,106)(6.07,106)(6.4,106)(7,107)(7.34,122)(7.7,122)(2.81,98)
(1.98,92)(1.51,94)(.78,88)(.31,86)(.98,86)(2.49,82)(.24,79)(1.04,74)(.64,74)(.84,69)(1.65,78)(2.05,83)(.11,69)(.08,61)(.24,58)(1.11,58)(1.45,58)(.91,50)(.51,50)(.71,47)(.19,42)(.11,33)(.37,42)(1.31,43)(1.51,50)(2.65,48)(2.85,52)(1.58,31)(1.78,17)(1.04,19)(.51,17)(.37,6)(.64,3)(1.21,4)(1.58,4)(2.38,6)(2.72,6)(3.46,17)(3.39,8)(3.66,4)(4.12,21)(4.46,36)(4.79,39)(5.56,31)(5.8,21)(6.13,31)(6.24,14)(6.6,4)(6.8,28)(7,32)(7.47,28)(7.87,19)(5.4,86)(5.6,92)(5.8,94)(6,92)(6.13,81)(6.4,75)(5.87,69)(5.6,64)(5.46,69)(5.26,81)(6,58)(6.27,67)(6.67,92)(7,86)(7.27,81)(7.54,75)(7.87,69)(7.74,92)(7.14,64)(7.6,56)(7.41,47)(7.74,42)(8,47)(7.87,56)(6.8,58)(6.54,53)(6.33,44)(6.07,36)(5.87,44)(7.47,36)(7.67,31)
(.2,50)(.3,30)(.42,25)(.15,20)(.55,35)(.7,28)(.85,35)(.95,24)(1.15,40)(.05,45)(.05,30)(.5,62)(.35,70)(.62,58)(.9,66)(1.18,70)(6.45,62)(6.65,68)(6.95,55)(7.2,45)(6.15,50)(5.7,50)(5.65,38)(6.5,36)(7.15,38)(7.85,38)
(9.05,348)(9.55,357)(10.04,357)(11.02,356)(11.31,356)(12.05,350)(12.87,347)(13.19,353)(13.79,357)(14.23,353)(15.27,356)(16.14,356)(8.48,337)(8.45,329)(9.05,337)(9.35,342)(9.98,342)(10.22,343)(10.42,346)(11.15,344)(11.53,338)(11.96,337)(12.43,338)(12.83,336)(13.3,329)(13.83,343)(14.1,333)(14.37,339)(14.97,340)(15.28,331)(15.64,339)(15.98,344)(8.48,314)(8.41,308)(9.08,321)(9.28,319)(9.61,318)(9.95,317)(10.22,322)(10.69,331)(11.05,317)(11.42,325)(11.69,317)(12.02,313)(12.36,308)(13.16,319)(13.43,306)(13.7,310)(14.5,319)(14.77,317)(15.24,303)(15.57,328)(15.98,297)(9.68,308)(9.61,300)(9.75,294)(10.35,306)(10.75,307)(11.15,306)(11.49,297)(11.89,298)(12.49,297)(13.1,294)(13.36,283)(13.9,292)(14.1,292)(14.44,292)(14.84,297)(14.9,281)(15.3,294)(11.15,292)(10.75,292)(8.27,288)(8.44,277)(9.52,286)(10.08,278)(9.65,272)(9.95,269)(10.82,281)(11.56,283)(11.89,275)(12.36,278)(12.56,282)(13.9,275)(13.77,265)(14.17,267)(14.84,278)(15.98,276)(9.24,264)(9.39,261)(10.35,265)(10.28,257)(11.25,258)(11.89,262)(12.33,268)(14.64,264)(14.94,256)(15.84,254)(16.04,260)(8.38,250)(10.65,254)(12.53,250)(10.71,240)(12.43,240)(8.48,235)(9.79,229)(14.7,227)(16.03,229)(9.84,210)(11.45,210)(14.26,217)(14.4,208)(12.01,198)(9.61,181)(14.68,169)(12.05,161)(11.82,146)(12.05,139)(10.08,133)(14.4,152)(14.3,137)(11.78,123)(13.36,114)(11.73,107)(12.69,106)(14.23,102)(9.41,100)(9.17,91)(9.28,89)(8.58,79)(11.56,78)(11.93,75)(13,74)(13.54,75)(10.89,77)(11.36,67)(8.81,69)(8.61,67)(8.14,64)
(7.94,31)(8.07,36)(8.21,44)(8.14,25)(8.34,53)(8.27,19)(8.54,31)(8.68,42)(8.61,56)(8.74,67)(8.88,58)(9.01,44)(9.15,64)(8.94,31)(9.21,14)(9.41,36)(9.35,28)(9.08,25)(8.88,11)(9.52,11)(9.81,61)(9.88,22)(10.15,44)(10.22,64)(10.08,36)(10.28,28)(10.55,61)(10.48,58)(10.69,28)(10.82,36)(10.35,11)(10.22,8)(11.15,8)(10.95,47)(11.15,50)(11.42,19)(11.36,39)(11.56,42)(11.62,53)(11.36,75)(11.96,25)(12.09,50)(12.23,50)(12.29,61)(12.23,31)(12.16,14)(12.36,8)(12.63,69)(12.69,58)(12.56,47)(12.76,44)(12.63,36)(12.9,44)(13.03,47)(12.83,31)(13.1,31)(12.96,17)(13.16,8)(13.5,78)(13.56,64)(13.5,44)(13.7,42)(13.63,28)(13.83,47)(13.7,19)(13.56,8)(14.03,47)(14.23,47)(14.03,25)(14.3,14)(14.5,17)(14.5,36)(14.64,50)(14.77,31)(15.1,61)(15.04,47)(15.04,25)(14.97,17)(15.17,8)(15.37,28)(15.44,50)(15.51,81)(15.57,42)(15.77,61)(15.84,86)(15.71,25)(15.51,8)(15.98,36)(16.11,47)(16.18,28)(16.04,11)(16.31,47)(16.24,61)(8.02,50)(8.2,58)(8.45,40)(8.3,30)(8.4,12)(8.1,8)(8.6,20)(8.75,33)(8.85,45)(9.1,52)(9.25,40)(9.48,30)(9.6,18)(9.7,40)
(8.18,12)(8.5,48)(8.95,18)(9.3,52)(9.9,44)(10.05,20)(10.42,36)(10.6,44)(10.9,20)(11.25,33)(11.7,27)(11.85,38)(12.45,24)(12.5,55)(13.22,38)(13.35,55)(13.85,30)(14.15,36)(14.4,28)(14.85,42)(15.25,38)(15.6,18)(15.9,52)(16.4,30)(8.5,62)(9.45,55)(10.4,50)
(17.18,352)(17.85,356)(19.19,356)(19.8,357)(20.2,353)(20.13,350)(21.78,356)(21.27,343)(22.07,344)(16.25,331)(16.3,312)(16.25,297)(16.92,289)(17.12,286)(17.99,292)(18.19,294)(18.86,292)(19.39,293)(19.93,298)(20.87,281)(21,278)(20.51,277)(17.48,279)(16.98,271)(18.43,282)(18.32,273)(18.52,268)(21.78,275)(21.6,272)(17.92,267)(21.56,258)(17.45,262)(20.33,261)(19.73,260)(17.59,253)(18.26,255)(19.46,253)(19.53,250)(20.89,256)(21.38,251)(19.13,243)(19.53,239)(20.47,244)(20.4,239)(17.05,239)(17.09,229)(18.06,229)(21.67,232)(22.03,233)(21.43,229)(17.52,224)(19.06,221)(19.39,222)(20.44,223)(19.42,214)(18.06,208)(21.2,212)(18.99,200)(19.37,197)(17.59,198)(21.47,202)(21.67,197)(21.54,193)(21.38,192)(20.53,192)(19.73,189)(19.33,189)(17.88,185)(18.16,183)(18.39,183)(20.09,182)(21.34,185)(20.6,175)(18.56,174)(19.59,175)(19.13,172)(20.97,177)(18.52,169)(20.04,169)(21.74,172)(18.46,163)(22.07,167)(20,157)(17.45,165)(17.18,154)(22.68,164)(19.26,150)(21.47,146)(21.6,144)(19.39,142)(18.86,139)(19.53,137)(21.4,135)(22.18,132)(17.99,126)(20.02,126)(19.3,121)(18.59,118)(21.8,119)(18.93,115)(16.51,112)(17.72,112)(18.32,109)(18.66,108)(21.07,111)(21.2,107)(21.97,108)(22.14,108)(18.12,103)(18.19,97)(19.93,107)(20.26,107)(21.74,103)(19.26,97)(16.78,97)(19.8,96)(18.59,94)(16.72,89)(19.66,88)(23.55,93)(16.65,81)(22.74,89)(16.58,78)(17.05,74)(17.25,77)(17.65,75)(18.19,72)(20,77)(21.47,74)(21.94,82)(22.27,83)(22.68,81)(23.01,78)(23.14,81)(23.55,81)(19.46,72)(19.19,72)(19.86,69)(21.14,67)(21.4,61)(21.8,64)(22.07,69)(22.34,69)(22.61,67)(23.01,69)(23.28,64)(23.68,69)(23.81,61)(23.88,53)
(16.45,61)(16.51,56)(16.38,50)(16.72,47)(16.58,44)(16.38,36)(16.58,31)(16.38,22)(16.25,8)(16.78,19)(17.05,8)(17.39,6)(17.59,47)(17.79,42)(17.72,58)(18.06,42)(17.92,19)(17.85,17)(18.26,42)(18.39,47)(18.66,31)(18.59,19)(18.72,14)(18.93,36)(19.06,56)(19.33,56)(19.46,61)(19.59,47)(19.8,58)(19.86,33)(20.2,44)(20.2,8)(20.33,25)(20.6,19)(20.8,17)(21.14,50)(21.14,28)(21.27,44)(21.4,8)(21.67,3)(21.47,42)(21.87,69)(21.94,44)(22.14,44)(22.34,28)(22.47,53)(22.68,25)(22.74,53)(22.94,42)(23.01,58)(23.21,19)(23.28,47)(23.48,8)(23.48,47)(23.61,25)(23.75,39)(23.88,44)(23.41,61)(22.34,61)(22.61,56)(23.08,47)(23.61,58)(23.14,61)(22.88,69)(22.01,56)(22.21,64)(22.5,40)(22.8,35)(23.2,38)(23.65,42)(23.9,32)(23.95,18)
};
\addlegendentry{Wind Direction}
\end{axis}

% ---------- cumulative rainfall
\begin{axis}[base,wd,at={(p5)},timex,hourlab,ymin=-1,ymax=1,ytick={0},ytick pos=left,ylab=49.7bp,
  title={\textit{Disdrometer and Weather station}},xlabel={Time [UTC]},ylabel={Cumulative rainfall [\textit{mm}]},
  legend style={at={(0.9862,0.0417)},anchor=south east}]
\addplot[ottC,line width=2.1bp,line join=round] coordinates {(0,0)(24,0)};
\addlegendentry{OTT HydroMet Parsivel2}
\addplot[wsC,line width=2.1bp,line join=round,opacity=.95] coordinates {(0,0)(24,0)};
\addlegendentry{Weather Station}
\end{axis}

% ---------- fall speed
\begin{axis}[base,at={(p6)},width=456.7bp,height=155.52bp,xmin=0,xmax=5,ymin=0,ymax=10,xtick={0,1,...,5},minor xtick={0,0.5,...,5},ytick={0,2,...,10},minor ytick={0,1,...,10},xtick pos=left,ytick pos=left,ylab=51.8bp,
  title={\textit{Relationship disdrometer fall speed / drop size}},xlabel={Diameter [\textit{mm}]},ylabel={Fall speed [\textit{m.\,s}\textsuperscript{−1}]}]
\node[anchor=base west,font=\fontsize{14bp}{17bp}\selectfont,inner sep=0pt] at (axis cs:2,4) {\textit{No data}};
\end{axis}

\pgfresetboundingbox
\path (0,0) rectangle (1152bp,-720bp);
\end{tikzpicture}
\end{document}
